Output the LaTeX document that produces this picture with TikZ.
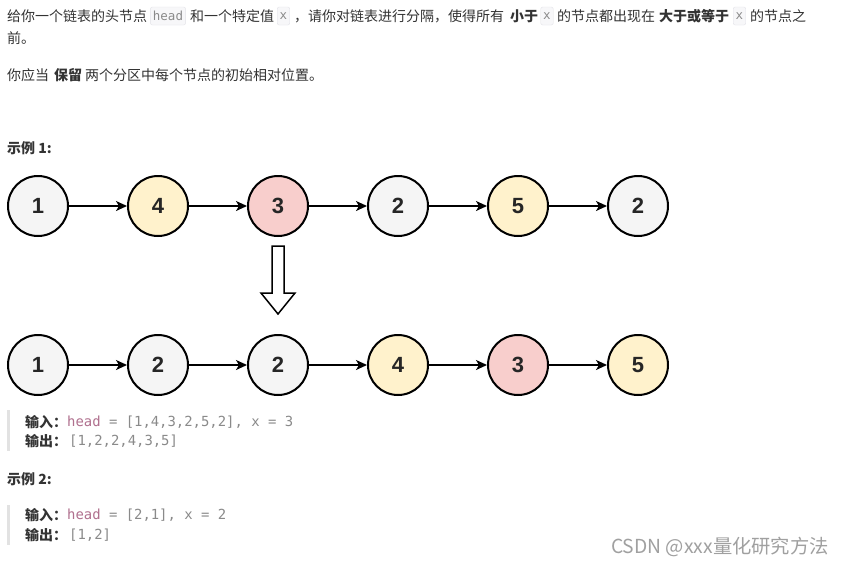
\documentclass[tikz,border=0pt]{standalone}
\usepackage{fontspec}
\setmainfont{Noto Sans CJK SC}
\newfontfamily\numfont{Liberation Sans}
\newfontfamily\codefont{DejaVu Sans Mono}
\usetikzlibrary{arrows.meta}

\definecolor{txtgray}{HTML}{333333}
\definecolor{codegray}{HTML}{8A8A8A}
\definecolor{codepink}{HTML}{B0708E}
\definecolor{boxgray}{HTML}{F7F7F9}
\definecolor{boxline}{HTML}{E3E3E8}
\definecolor{nodegray}{HTML}{F5F5F5}
\definecolor{nodeyellow}{HTML}{FFF2CC}
\definecolor{nodered}{HTML}{F8CECC}
\definecolor{quotebar}{HTML}{E2E2E2}
\definecolor{markgray}{HTML}{A0A0A0}

\tikzset{
  para/.style={anchor=west, inner sep=0pt, text=txtgray, font=\fontsize{14}{16}\selectfont},
  strong/.style={para, font=\fontsize{14}{16}\selectfont\bfseries},
  inlinecode/.style={draw=boxline, fill=boxgray, rounded corners=2pt, inner xsep=2.5pt,
    minimum height=18pt, text=codegray, font=\codefont\fontsize{12.5}{14}\selectfont},
  code/.style={anchor=west, inner sep=0pt, text=codegray, font=\codefont\fontsize{13.9}{15}\selectfont},
  listnode/.style={circle, draw=black, line width=2pt, minimum size=60pt, inner sep=0pt,
    text=black!85, font=\numfont\fontsize{22}{24}\selectfont\bfseries},
  link/.style={line width=1.6pt, -{Stealth[length=11pt, width=10pt, inset=3pt]}},
}

\begin{document}
\begin{tikzpicture}[x=1pt, y=-1pt]
\useasboundingbox[fill=white] (0,0) rectangle (847,565);

% problem statement
\node[para]   (t1)  at (7,16)   {给你一个链表的头节点};
\node[inlinecode] (c1) at (168,16) {head};
\node[para]   (t2)  at (190,16) {和一个特定值};
\node[inlinecode] (c2) at (283.5,16) {x};
\node[para]   (t3)  at (294,16) {，请你对链表进行分隔，使得所有};
\node[strong] (t4)  at (510,16) {小于};
\node[inlinecode] (c3) at (547,16) {x};
\node[para]   (t5)  at (557,16) {的节点都出现在};
\node[strong] (t6)  at (659,16) {大于或等于};
\node[inlinecode] (c4) at (739.5,16) {x};
\node[para]   (t7)  at (750,16) {的节点之};
\node[para]   (t8)  at (7,38)   {前。};
\node[para]   (t9)  at (7,75)   {你应当};
\node[strong] (t10) at (54,75)  {保留};
\node[para]   (t11) at (85,75)  {两个分区中每个节点的初始相对位置。};

% example 1
\node[strong] (ex1) at (7,148) {示例 1:};

\node[listnode, fill=nodegray]   (a1) at (38,206)  {1};
\node[listnode, fill=nodeyellow] (a2) at (158,206) {4};
\node[listnode, fill=nodered]    (a3) at (278,206) {3};
\node[listnode, fill=nodegray]   (a4) at (398,206) {2};
\node[listnode, fill=nodeyellow] (a5) at (518,206) {5};
\node[listnode, fill=nodegray]   (a6) at (638,206) {2};
\draw[link] (a1) -- (a2);
\draw[link] (a2) -- (a3);
\draw[link] (a3) -- (a4);
\draw[link] (a4) -- (a5);
\draw[link] (a5) -- (a6);

% partition arrow
\draw[line width=1.5pt, fill=white, line join=miter]
  (272,246) -- (284,246) -- (284,293) -- (295,293) -- (278,314)
  -- (261,293) -- (272,293) -- cycle;

\node[listnode, fill=nodegray]   (b1) at (38,365)  {1};
\node[listnode, fill=nodegray]   (b2) at (158,365) {2};
\node[listnode, fill=nodegray]   (b3) at (278,365) {2};
\node[listnode, fill=nodeyellow] (b4) at (398,365) {4};
\node[listnode, fill=nodered]    (b5) at (518,365) {3};
\node[listnode, fill=nodeyellow] (b6) at (638,365) {5};
\draw[link] (b1) -- (b2);
\draw[link] (b2) -- (b3);
\draw[link] (b3) -- (b4);
\draw[link] (b4) -- (b5);
\draw[link] (b5) -- (b6);

\fill[quotebar] (7,410) rectangle (10,451);
\node[strong] (in1)  at (25,422) {输入：};
\node[code]   (iv1)  at (67,422) {\textcolor{codepink}{head} = [1,4,3,2,5,2], x = 3};
\node[strong] (out1) at (25,441) {输出：};
\node[code]   (ov1)  at (69,441) {[1,2,2,4,3,5]};

% example 2
\node[strong] (ex2) at (7,479) {示例 2:};

\fill[quotebar] (7,505) rectangle (10,545);
\node[strong] (in2)  at (25,515) {输入：};
\node[code]   (iv2)  at (67,515) {\textcolor{codepink}{head} = [2,1], x = 2};
\node[strong] (out2) at (25,535) {输出：};
\node[code]   (ov2)  at (69,535) {[1,2]};

\node[anchor=east, inner sep=0pt, text=markgray, font=\fontsize{19.3}{21}\selectfont]
  (mark) at (829,547) {CSDN @xxx量化研究方法};
\end{tikzpicture}
\end{document}
